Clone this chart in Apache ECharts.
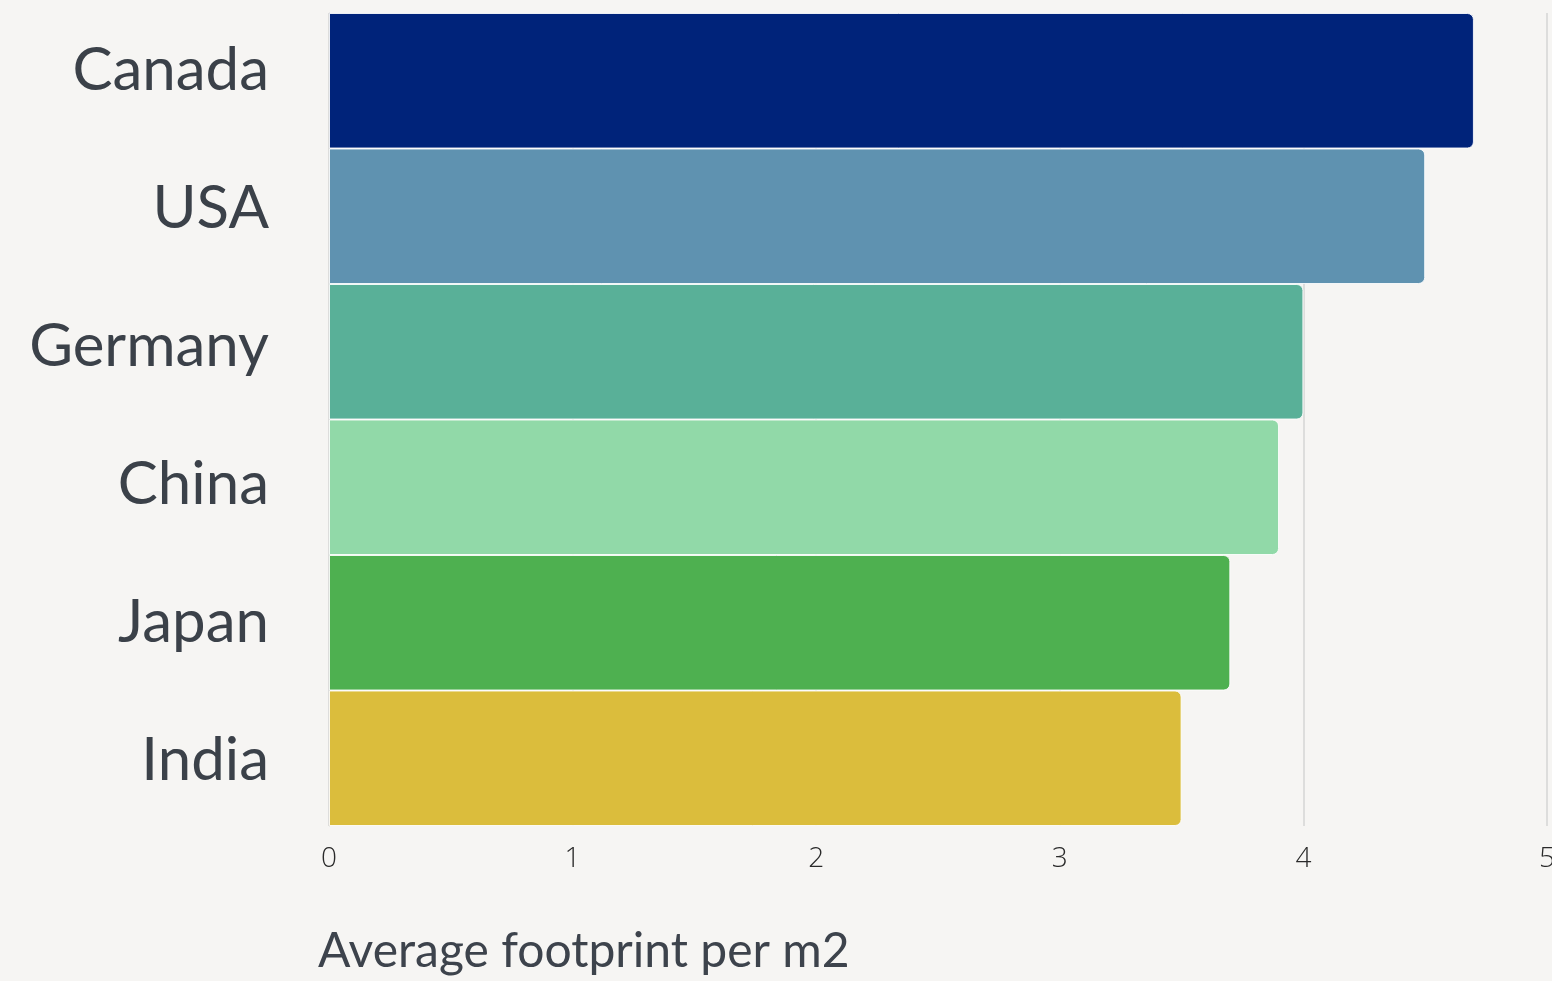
<!DOCTYPE html>
<html>
<head>
<meta charset="utf-8">
<script src="https://cdn.jsdelivr.net/npm/echarts@6/dist/echarts.min.js"></script>
<style>
  html, body { margin: 0; padding: 0; background: #f6f5f3; }
  #chart { width: 1552px; height: 981px; }
</style>
</head>
<body>
<div id="chart"></div>
<script>
// Countries, top to bottom
const countries = ['Canada', 'USA', 'Germany', 'China', 'Japan', 'India'];
// Average footprint per m2
const footprint = [4.7, 4.5, 4.0, 3.9, 3.7, 3.5];
// One colour per country bar
const barColors = ['#00237a', '#5f92b0', '#59b098', '#91d9a8', '#4eb050', '#dbbd3c'];
const axisTitle = 'Average footprint per m2';

const chart = echarts.init(document.getElementById('chart'), null, { renderer: 'canvas' });

chart.setOption({
  backgroundColor: '#f6f5f3',
  animation: false,
  title: {
    text: axisTitle,
    left: 318,
    top: 928,
    padding: 0,
    textStyle: {
      fontFamily: 'Lato',
      fontWeight: 'normal',
      fontSize: 48,
      color: '#3d434c'
    }
  },
  grid: [
    // plot area holding the bars
    { left: 329, right: 5, top: 13, bottom: 155, containLabel: false, outerBoundsMode: 'none' },
    // label band for the country names, spaced a little wider than the bars
    { left: 329, right: 5, top: 2, bottom: 151, containLabel: false, outerBoundsMode: 'none' }
  ],
  xAxis: [{
    type: 'value',
    gridIndex: 0,
    min: 0,
    max: 5,
    interval: 1,
    axisLine: { show: false },
    axisTick: { show: false },
    splitLine: { show: true, lineStyle: { color: '#d4d4d4', width: 1.5 } },
    axisLabel: {
      margin: 19,
      fontFamily: 'Open Sans',
      fontWeight: 300,
      fontSize: 28,
      color: '#2a2a2a'
    }
  }, {
    type: 'value',
    gridIndex: 1,
    min: 0,
    max: 1,
    show: false
  }],
  yAxis: [{
    type: 'category',
    gridIndex: 0,
    inverse: true,
    data: countries,
    axisLine: { show: true, lineStyle: { color: '#d8d8d8', width: 1 } },
    axisTick: { show: false },
    axisLabel: { show: false }
  }, {
    type: 'category',
    gridIndex: 1,
    inverse: true,
    data: countries,
    axisLine: { show: false },
    axisTick: { show: false },
    splitLine: { show: false },
    axisLabel: {
      margin: 60,
      fontFamily: 'Lato',
      fontSize: 60,
      color: '#3b4149',
      verticalAlign: 'middle'
    }
  }],
  series: [{
    type: 'bar',
    xAxisIndex: 0,
    yAxisIndex: 0,
    barCategoryGap: 0,
    data: footprint.map((v, i) => ({
      value: v,
      itemStyle: { color: barColors[i] }
    })),
    itemStyle: {
      borderRadius: [0, 6, 6, 0],
      borderColor: 'rgba(255,255,255,0.85)',
      borderWidth: 1
    }
  }]
});
</script>
</body>
</html>
